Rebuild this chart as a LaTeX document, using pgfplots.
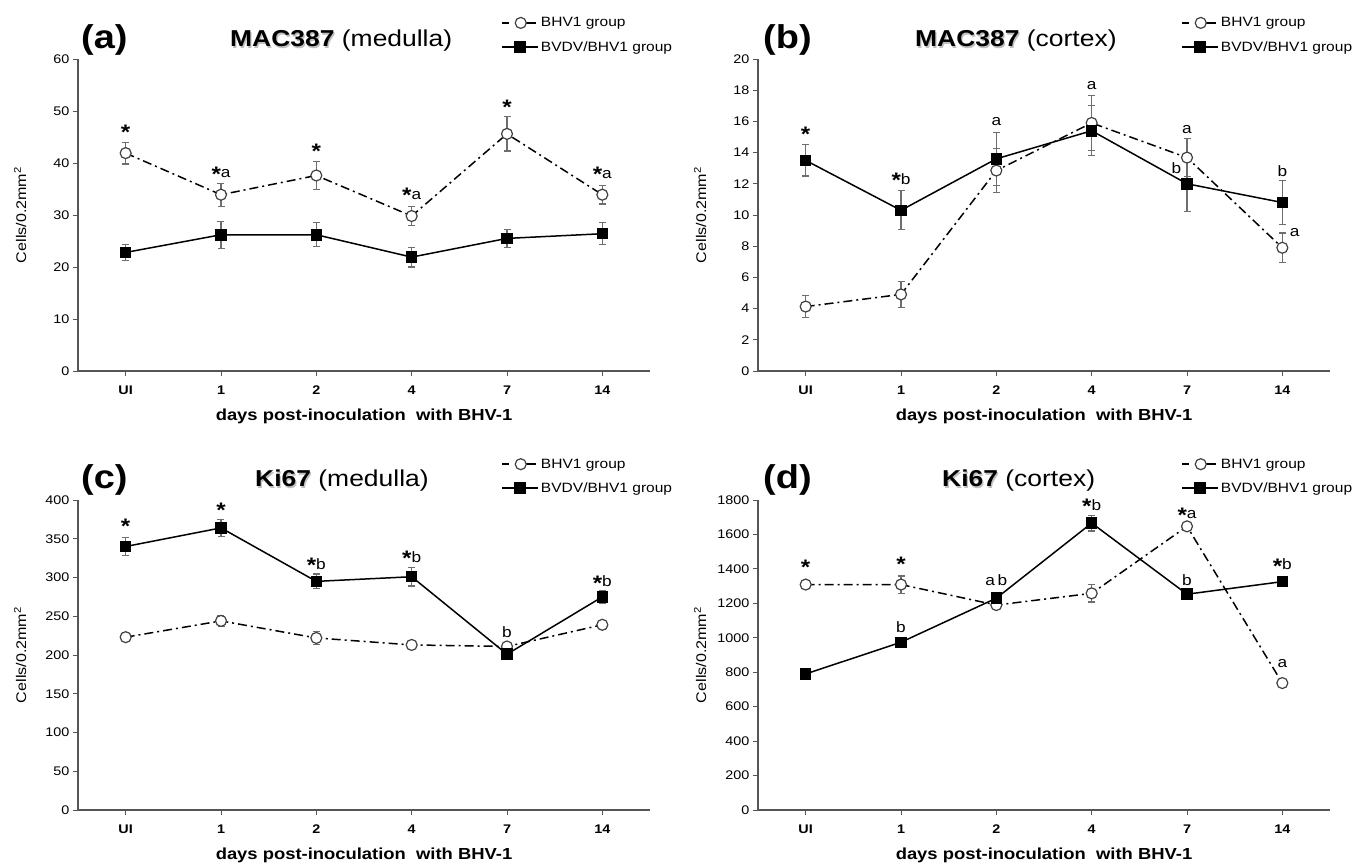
\documentclass[border=0pt]{standalone}
\usepackage{fontspec}
\setmainfont{Liberation Sans}[FakeStretch=1.15]
\usepackage{pgfplots}
\usepackage{pgfplotstable}
\pgfplotsset{compat=1.18}

\definecolor{axgray}{HTML}{555555}
\definecolor{errgray}{HTML}{6E6E6E}
\definecolor{mkgray}{HTML}{404040}

% x = day index (UI,1,2,4,7,14), y = mean, e = error
\pgfplotstableread{
x y e
0 41.9 2.1
1 33.9 2.2
2 37.6 2.7
3 29.8 1.8
4 45.6 3.3
5 33.9 1.8
}\aBHV
\pgfplotstableread{
x y e
0 22.8 1.6
1 26.2 2.6
2 26.2 2.3
3 21.9 1.9
4 25.5 1.7
5 26.4 2.1
}\aBVDV
\pgfplotstableread{
x y e
0 4.13 0.7
1 4.91 0.85
2 12.85 1.4
3 15.9 1.75
4 13.68 1.23
5 7.9 0.95
}\bBHV
\pgfplotstableread{
x y e
0 13.5 1.0
1 10.3 1.25
2 13.6 1.7
3 15.4 1.6
4 12.0 1.76
5 10.8 1.4
}\bBVDV
\pgfplotstableread{
x y e
0 223 6
1 244 7
2 222 8
3 213 5
4 211 5
5 239 6
}\cBHV
\pgfplotstableread{
x y e
0 340 12
1 364 11
2 295 9.5
3 301 12
4 201 6
5 275 8
}\cBVDV
\pgfplotstableread{
x y e
0 1309 20
1 1309 50
2 1190 20
3 1258 50
4 1647 20
5 737 15
}\dBHV
\pgfplotstableread{
x y e
0 790 15
1 974 27
2 1230 35
3 1666 46
4 1253 15
5 1326 20
}\dBVDV

\tikzset{ann/.style={font=\fontsize{15}{15}\selectfont, inner sep=0pt, anchor=center}}
\newcommand{\st}{\raisebox{-0.22em}{\fontsize{21}{21}\selectfont\bfseries *}}

\pgfplotsset{
  panel/.style={
    scale only axis, width=572pt,
    axis x line*=bottom, axis y line*=left,
    xmin=-0.5, xmax=5.5, xtick={0,...,5}, xticklabels={UI,1,2,4,7,14},
    ymin=0,
    tick align=outside, major tick length=5pt,
    tick style={axgray, line width=0.9pt},
    axis line style={axgray, line width=1.1pt},
    x tick label style={font=\fontsize{12.5}{14}\selectfont\bfseries, yshift=-6pt},
    y tick label style={font=\fontsize{12.5}{14}\selectfont},
    /pgf/number format/assume math mode=true,
    /pgf/number format/1000 sep={},
    xlabel={days post-inoculation\ \ with BHV-1},
    xlabel style={font=\fontsize{16}{18}\selectfont\bfseries, at={(axis description cs:0.5,0)}, anchor=center, yshift=-45pt},
    ylabel={Cells/0.2mm\textsuperscript{2}},
    ylabel style={font=\fontsize{14}{16}\selectfont, at={(axis description cs:-0.101,0.5)}, anchor=center},
    clip=false,
    legend cell align=left,
    legend style={draw=none, fill=none, anchor=north west, at={(axis description cs:0.74,1.14)},
      font=\fontsize{13.5}{15}\selectfont, row sep=9pt, inner sep=0pt},
    legend image code/.code={\draw[mark repeat=2,mark phase=2,#1] plot coordinates {(0pt,0pt) (18pt,0pt) (36pt,0pt)};},
  },
  bhv/.style={black, line width=1.5pt, dash pattern=on 9pt off 4pt on 2pt off 4pt,
    mark=*, mark size=5.5pt, mark options={solid, fill=white, draw=mkgray, line width=1.2pt},
    legend image code/.code={
      \draw[#1, solid] (0pt,0pt) -- (7pt,0pt);
      \draw[#1, solid] (24pt,0pt) -- (34pt,0pt);
      \path[#1] plot coordinates {(18.5pt,0pt)};},
    error bars/.cd, y dir=both, y explicit,
    error bar style={errgray, line width=1.2pt, solid},
    error mark options={rotate=90, errgray, mark size=3.5pt, line width=1.2pt, solid}},
  bvdv/.style={black, line width=1.5pt,
    mark=square*, mark size=5pt, mark options={solid, fill=black},
    error bars/.cd, y dir=both, y explicit,
    error bar style={errgray, line width=1.2pt},
    error mark options={rotate=90, errgray, mark size=3.5pt, line width=1.2pt}},
}

\begin{document}
\begin{tikzpicture}[x=1pt,y=1pt]
\useasboundingbox (0,0) rectangle (1365,863);

% (a) MAC387 medulla
\begin{axis}[panel, at={(78pt,492pt)}, anchor=south west, height=312pt, ymax=60, ytick distance=10]
\addplot[bhv] table[x=x, y=y, y error=e] {\aBHV};
\addplot[bvdv] table[x=x, y=y, y error=e] {\aBVDV};
\legend{BHV1 group, BVDV/BHV1 group}
\node[ann] at (axis cs:0,45.9) {\st};
\node[ann] at (axis cs:1,37.9) {\st a};
\node[ann] at (axis cs:2,42.2) {\st};
\node[ann] at (axis cs:3,33.7) {\st a};
\node[ann] at (axis cs:4,50.7) {\st};
\node[ann] at (axis cs:5,37.8) {\st a};
\end{axis}

% (b) MAC387 cortex
\begin{axis}[panel, at={(758pt,492pt)}, anchor=south west, height=312pt, ymax=20, ytick distance=2]
\addplot[bhv] table[x=x, y=y, y error=e] {\bBHV};
\addplot[bvdv] table[x=x, y=y, y error=e] {\bBVDV};
\legend{BHV1 group, BVDV/BHV1 group}
\node[ann] at (axis cs:0,15.2) {\st};
\node[ann] at (axis cs:1,12.2) {\st b};
\node[ann] at (axis cs:2,16.0) {a};
\node[ann] at (axis cs:3,18.3) {a};
\node[ann] at (axis cs:4,15.5) {a};
\node[ann] at (axis cs:3.89,13.0) {b};
\node[ann] at (axis cs:5,12.8) {b};
\node[ann] at (axis cs:5.13,8.9) {a};
\end{axis}

% (c) Ki67 medulla
\begin{axis}[panel, at={(78pt,53pt)}, anchor=south west, height=310pt, ymax=400, ytick distance=50]
\addplot[bhv] table[x=x, y=y, y error=e] {\cBHV};
\addplot[bvdv] table[x=x, y=y, y error=e] {\cBVDV};
\legend{BHV1 group, BVDV/BHV1 group}
\node[ann] at (axis cs:0,366) {\st};
\node[ann] at (axis cs:1,387) {\st};
\node[ann] at (axis cs:2,316) {\st b};
\node[ann] at (axis cs:3,325) {\st b};
\node[ann] at (axis cs:4,229) {b};
\node[ann] at (axis cs:5,293) {\st b};
\end{axis}

% (d) Ki67 cortex
\begin{axis}[panel, at={(758pt,53pt)}, anchor=south west, height=310pt, ymax=1800, ytick distance=200]
\addplot[bhv] table[x=x, y=y, y error=e] {\dBHV};
\addplot[bvdv] table[x=x, y=y, y error=e] {\dBVDV};
\legend{BHV1 group, BVDV/BHV1 group}
\node[ann] at (axis cs:0,1408) {\st};
\node[ann] at (axis cs:1,1427) {\st};
\node[ann] at (axis cs:1,1064) {b};
\node[ann] at (axis cs:2,1332) {a\,b};
\node[ann] at (axis cs:3,1762) {\st b};
\node[ann] at (axis cs:4,1714) {\st a};
\node[ann] at (axis cs:4,1335) {b};
\node[ann] at (axis cs:5,1418) {\st b};
\node[ann] at (axis cs:5,848) {a};
\end{axis}

% panel letters and titles
\begin{scope}[every node/.style={inner sep=0pt}]
\node[anchor=base west, font=\fontsize{33}{33}\selectfont\bfseries] at (81,814) {(a)};
\node[anchor=base west, font=\fontsize{33}{33}\selectfont\bfseries] at (763,814) {(b)};
\node[anchor=base west, font=\fontsize{33}{33}\selectfont\bfseries] at (81,374) {(c)};
\node[anchor=base west, font=\fontsize{33}{33}\selectfont\bfseries] at (763,374) {(d)};
\foreach \px/\py/\nm/\rg in {230/816/MAC387/medulla, 915/816/MAC387/cortex, 255/376/Ki67/medulla, 942/376/Ki67/cortex}{
  \node[anchor=base west, font=\fontsize{23}{23}\selectfont, text=black!25] at (\px+1.2,\py-1.2) {\textbf{\nm}};
  \node[anchor=base west, font=\fontsize{23}{23}\selectfont] at (\px,\py) {\textbf{\nm} (\rg)};
}
\end{scope}
\end{tikzpicture}
\end{document}
